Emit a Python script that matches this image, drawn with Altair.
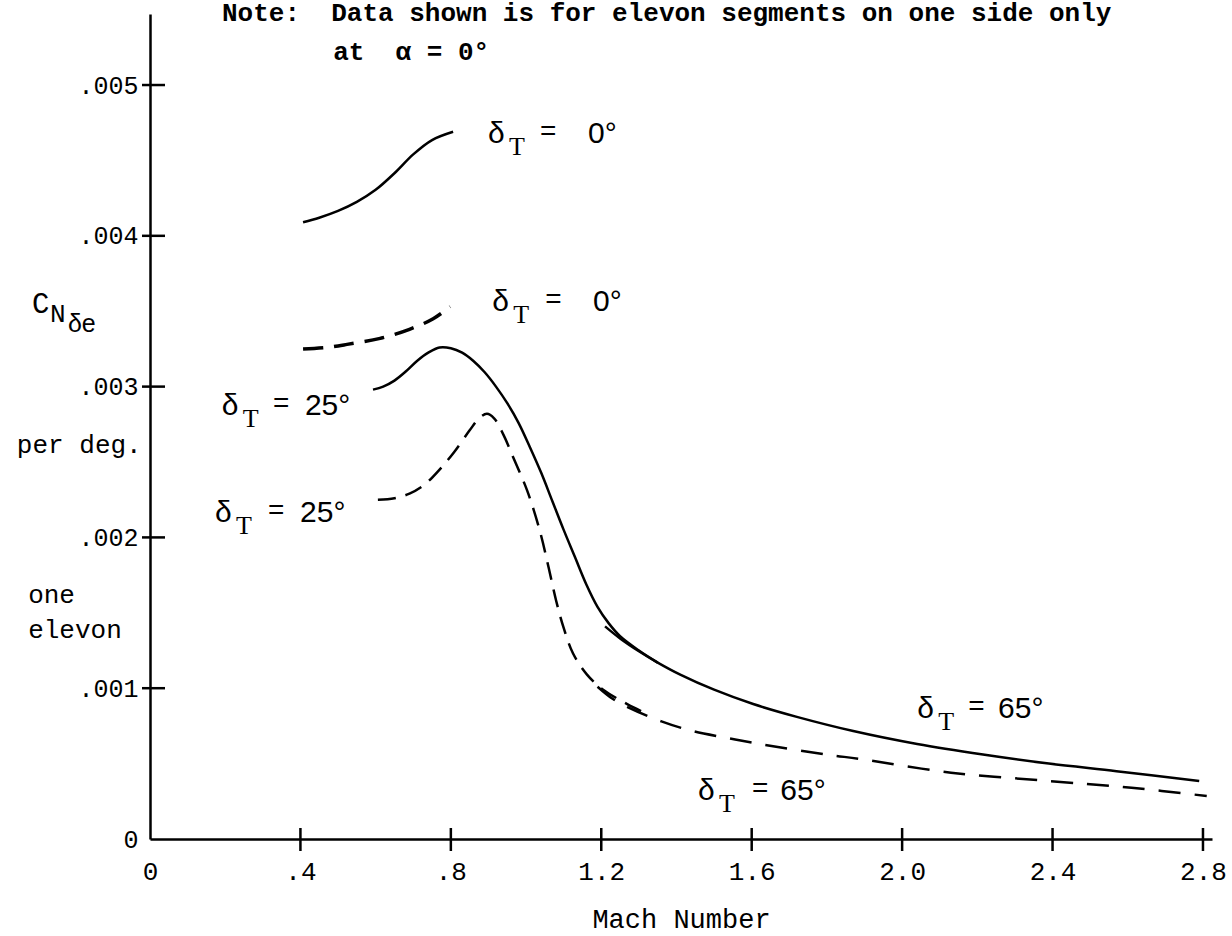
import altair as alt
import pandas as pd

# ---------------- data (C_N values in units of 0.001 per deg) ----------------
solid0_m = [0.407, 0.45, 0.50, 0.55, 0.60, 0.65, 0.70, 0.75, 0.806]
solid0_c = [4.09, 4.12, 4.165, 4.225, 4.305, 4.415, 4.54, 4.635, 4.69]

dash0_m = [0.407, 0.47, 0.524, 0.612, 0.69, 0.753, 0.798]
dash0_c = [3.25, 3.26, 3.28, 3.32, 3.38, 3.45, 3.53]

solid25_m = [0.593, 0.62, 0.65, 0.68, 0.71, 0.74, 0.77, 0.80, 0.83, 0.86,
             0.89, 0.92, 0.95, 0.98, 1.01, 1.04, 1.07, 1.10, 1.13, 1.16,
             1.19, 1.22, 1.25, 1.30, 1.35]
solid25_c = [2.98, 3.00, 3.04, 3.10, 3.17, 3.225, 3.26, 3.255, 3.225, 3.17,
             3.095, 3.00, 2.89, 2.76, 2.60, 2.43, 2.24, 2.05, 1.87, 1.69,
             1.54, 1.43, 1.345, 1.25, 1.17]

dash25_m = [0.606, 0.65, 0.69, 0.73, 0.77, 0.81, 0.85, 0.875, 0.896, 0.915,
            0.94, 0.966, 1.003, 1.037, 1.06, 1.08, 1.10, 1.125, 1.162, 1.205,
            1.269, 1.33]
dash25_c = [2.25, 2.26, 2.29, 2.35, 2.45, 2.57, 2.71, 2.79, 2.82, 2.79,
            2.68, 2.53, 2.31, 2.04, 1.80, 1.58, 1.40, 1.23, 1.09, 0.99,
            0.895, 0.82]

solid65_m = [1.21, 1.25, 1.30, 1.35, 1.41, 1.5, 1.604, 1.72, 1.87, 2.04,
             2.215, 2.39, 2.57, 2.79]
solid65_c = [1.41, 1.33, 1.245, 1.17, 1.09, 0.99, 0.895, 0.81, 0.716, 0.63,
             0.56, 0.50, 0.45, 0.385]

dash65_m = [1.19, 1.23, 1.27, 1.36, 1.444, 1.53, 1.622, 1.80, 1.89, 2.13,
            2.39, 2.61, 2.81]
dash65_c = [1.01, 0.93, 0.875, 0.78, 0.715, 0.672, 0.63, 0.56, 0.53, 0.44,
            0.385, 0.34, 0.285]

x_ticks = [0, 0.4, 0.8, 1.2, 1.6, 2.0, 2.4, 2.8]
x_tick_labels = ["0", ".4", ".8", "1.2", "1.6", "2.0", "2.4", "2.8"]
y_ticks = [0, 1, 2, 3, 4, 5]
y_tick_labels = ["0", ".001", ".002", ".003", ".004", ".005"]

# curve labels  (delta_T = value)
lab_dx = [0.899, 0.910, 0.191, 0.173, 2.040, 1.457]
lab_y = [4.615, 3.50, 2.81, 2.10, 0.80, 0.26]
lab_eqx = [1.037, 1.051, 0.327, 0.314, 2.176, 1.601]
lab_vx = [1.165, 1.178, 0.412, 0.399, 2.255, 1.676]
lab_val = ["0°", "0°", "25°", "25°", "65°", "65°"]

note_x = [0.1915, 0.487]
note_y = [5.424, 5.166]
note_text = ["Note:\u00a0\u00a0Data shown is for elevon segments on one side only",
             "at\u00a0\u00a0\u03b1 = 0°"]

ytitle_x = [-0.354, -0.324, -0.324]
ytitle_y = [2.56, 1.565, 1.333]
ytitle_text = ["per deg.", "one", "elevon"]

# ---------------- layout ----------------
W, H = 1062, 825
XMAX, YMAX = 2.824, 5.471
MONO = "Liberation Mono"
SANS = "Liberation Sans"
SERIF = "Liberation Serif"

xs = alt.Scale(domain=[0, XMAX], nice=False, zero=False)
ys = alt.Scale(domain=[0, YMAX], nice=False, zero=False)


def label_expr(vals, labs):
    e = ""
    for v, l in zip(vals, labs):
        e += f"abs(datum.value - {v}) < 1e-6 ? '{l}' : "
    return e + "''"


XAXIS = alt.Axis(
    values=x_ticks, labelExpr=label_expr(x_ticks, x_tick_labels),
    title="Mach Number", titleFont=MONO, titleFontSize=27,
    titleFontWeight="normal", titleColor="black", titlePadding=22,
    labelFont=MONO, labelFontSize=26, labelColor="black",
    labelPadding=19, ticks=False, tickSize=0, grid=False, domainColor="black",
    domainWidth=2.5, labelFlush=False, labelOverlap=False)
YAXIS = alt.Axis(
    values=y_ticks, labelExpr=label_expr(y_ticks, y_tick_labels),
    title="", labelFont=MONO, labelFontSize=25,
    labelColor="black", labelPadding=12, ticks=False, tickSize=0, grid=False,
    domainColor="black", domainWidth=2.5, labelFlush=False,
    labelOverlap=False)


def X(f):
    return alt.X(f, scale=xs, axis=XAXIS)


def Y(f):
    return alt.Y(f, scale=ys, axis=YAXIS)


def curve(ms, cs, dash=None, width=2.5):
    df = pd.DataFrame({"m": ms, "c": cs})
    kw = dict(interpolate="catmull-rom", color="black", strokeWidth=width,
              strokeCap="butt")
    if dash:
        kw["strokeDash"] = dash
    return alt.Chart(df).mark_line(**kw).encode(x=X("m:Q"), y=Y("c:Q"))


xt = alt.Chart(pd.DataFrame({"m": x_ticks[1:]})).mark_rule(
    color="black", strokeWidth=2.5).encode(
    x=X("m:Q"), y=alt.value(H - 11), y2=alt.value(H + 12))
yt = alt.Chart(pd.DataFrame({"c": y_ticks[1:]})).mark_rule(
    color="black", strokeWidth=2.5).encode(
    y=Y("c:Q"), x=alt.value(-8), x2=alt.value(15))

lab_df = pd.DataFrame({"dx": lab_dx, "y": lab_y, "eqx": lab_eqx,
                       "vx": lab_vx, "val": lab_val})
delta = alt.Chart(lab_df).mark_text(
    text="δ", align="left", baseline="alphabetic", font=SANS, fontSize=30,
    color="black").encode(x=X("dx:Q"), y=Y("y:Q"))
sub_t = alt.Chart(lab_df).mark_text(
    text="T", align="left", baseline="alphabetic", font=SERIF, fontSize=26,
    dx=21, dy=12, color="black").encode(x=X("dx:Q"), y=Y("y:Q"))
eq = alt.Chart(lab_df).mark_text(
    text="=", align="left", baseline="alphabetic", font=SANS, fontSize=28,
    dy=-3, color="black").encode(x=X("eqx:Q"), y=Y("y:Q"))
val = alt.Chart(lab_df).mark_text(
    align="left", baseline="alphabetic", font=SANS, fontSize=30,
    color="black").encode(x=X("vx:Q"), y=Y("y:Q"), text="val:N")

note = alt.Chart(pd.DataFrame({"x": note_x, "y": note_y, "t": note_text})).mark_text(
    align="left", baseline="alphabetic", font=MONO, fontSize=26, fontWeight="bold",
    color="black").encode(x=X("x:Q"), y=Y("y:Q"), text="t:N")

ytl = alt.Chart(pd.DataFrame({"x": ytitle_x, "y": ytitle_y, "t": ytitle_text})).mark_text(
    align="left", baseline="alphabetic", font=MONO, fontSize=26,
    color="black").encode(x=X("x:Q"), y=Y("y:Q"), text="t:N")

cn_df = pd.DataFrame({"x": [-0.314], "y": [3.488]})
c_main = alt.Chart(cn_df).mark_text(text="C", align="left", baseline="alphabetic",
                                    font=MONO, fontSize=29, color="black").encode(
    x=X("x:Q"), y=Y("y:Q"))
c_n = alt.Chart(cn_df).mark_text(text="N", align="left", baseline="alphabetic",
                                 font=MONO, fontSize=26, dx=18, dy=9,
                                 color="black").encode(x=X("x:Q"), y=Y("y:Q"))
c_de = alt.Chart(cn_df).mark_text(text="δe", align="left", baseline="alphabetic",
                                  font=SANS, fontSize=25, dx=36, dy=19,
                                  color="black").encode(x=X("x:Q"), y=Y("y:Q"))

chart = alt.layer(
    curve(solid0_m, solid0_c),
    curve(dash0_m, dash0_c, dash=[20, 11], width=3.5),
    curve(solid25_m, solid25_c),
    curve(dash25_m, dash25_c, dash=[18, 10]),
    curve(solid65_m, solid65_c),
    curve(dash65_m, dash65_c, dash=[22, 14]),
    xt, yt,
    delta, sub_t, eq, val, note, ytl, c_main, c_n, c_de,
).properties(
    width=W, height=H,
    padding={"left": 150, "top": 14, "right": 20, "bottom": 97},
    autosize=alt.AutoSizeParams(type="none"),
    background="white",
).configure_view(strokeWidth=0)

chart.save("out.html", embed_options={"renderer": "svg", "actions": False})
